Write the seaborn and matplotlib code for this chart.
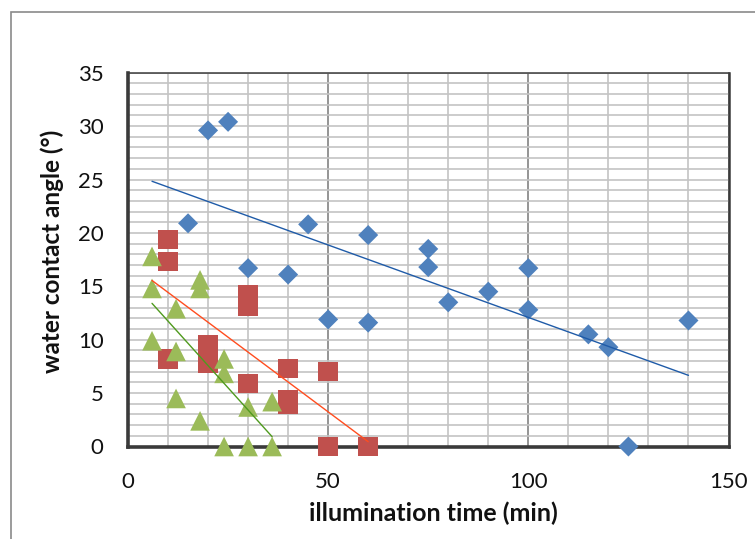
import numpy as np
import pandas as pd
import matplotlib
matplotlib.use("Agg")
import matplotlib.pyplot as plt
from matplotlib.patches import Rectangle
from matplotlib.ticker import MultipleLocator, FixedLocator
import seaborn as sns

# illumination time (min) and measured water contact angle (deg), three sample series
blue_time = [15, 20, 25, 30, 40, 45, 50, 60, 60, 75, 75, 80, 90, 100, 100, 115, 120, 125, 140]
blue_angle = [20.9, 29.6, 30.4, 16.7, 16.1, 20.8, 11.9, 19.8, 11.6, 18.5, 16.8, 13.5,
              14.5, 16.7, 12.8, 10.5, 9.3, 0.0, 11.8]

red_time = [10, 10, 10, 20, 20, 30, 30, 30, 40, 40, 40, 50, 50, 60]
red_angle = [19.4, 17.3, 8.2, 9.5, 7.8, 14.2, 13.1, 5.9, 7.3, 4.4, 4.0, 7.0, 0.0, 0.0]

green_time = [6, 6, 6, 12, 12, 12, 18, 18, 18, 24, 24, 24, 30, 30, 36, 36]
green_angle = [17.8, 14.8, 9.9, 12.9, 8.9, 4.5, 15.6, 14.8, 2.4, 8.2, 6.85, 0.0,
               3.7, 0.0, 4.2, 0.0]

x_ticks = [0, 50, 100, 150]
y_ticks = [0, 5, 10, 15, 20, 25, 30, 35]
x_label = "illumination time (min)"
y_label = "water contact angle (°)"

sns.set_theme(style="white")
plt.rcParams["font.family"] = ["Lato", "DejaVu Sans"]

series = [
    (blue_time, blue_angle, "#4f81bd", "D", 104, "#1f5ba8"),
    (red_time, red_angle, "#c0504d", "s", 196, "#ff4d1f"),
    (green_time, green_angle, "#9bbb59", "^", 200, "#4f9a1e"),
]

fig = plt.figure(figsize=(7.55, 5.39), dpi=100)
ax = fig.add_axes([128 / 755, 1 - 446.5 / 539, 600.5 / 755, 373.8 / 539])

for t, a, col, mk, size, _ in series:
    df = pd.DataFrame({"time": t, "angle": a})
    sns.scatterplot(data=df, x="time", y="angle", ax=ax, color=col, marker=mk,
                    s=size, linewidth=0, edgecolor="none", zorder=3, clip_on=False)

# least-squares trend lines, all starting at the earliest illumination time
t_start = min(min(s[0]) for s in series)
for t, a, _, _, _, lcol in series:
    slope, intercept = np.polyfit(t, a, 1)
    xs = np.array([t_start, max(t)])
    ax.plot(xs, slope * xs + intercept, color=lcol, lw=1.0, zorder=4)

ax.set_xlim(0, 150)
ax.set_ylim(0, 35)
ax.xaxis.set_major_locator(FixedLocator(x_ticks))
ax.yaxis.set_major_locator(FixedLocator(y_ticks))
ax.xaxis.set_minor_locator(MultipleLocator(10))
ax.yaxis.set_minor_locator(MultipleLocator(1))

ax.grid(False)
ax.grid(which="minor", axis="both", color="#c4c4c4", lw=1.2, zorder=0)
ax.grid(which="major", axis="y", color="#c4c4c4", lw=1.2, zorder=0)
ax.grid(which="major", axis="x", color="#8c8c8c", lw=1.3, zorder=0)
ax.set_axisbelow(True)

dark = "#3a3a3a"
for side in ("left", "bottom"):
    ax.spines[side].set_linewidth(2.6)
    ax.spines[side].set_color(dark)
ax.spines["top"].set_linewidth(1.1)
ax.spines["top"].set_color(dark)
ax.spines["right"].set_linewidth(1.8)
ax.spines["right"].set_color(dark)

ax.tick_params(which="major", direction="out", length=5.5, width=2.6, color=dark,
               labelsize=16, labelcolor="#111111")
ax.tick_params(axis="y", which="major", pad=12)
ax.tick_params(axis="x", which="major", pad=13)
ax.tick_params(which="minor", length=0)

ax.set_xlabel(x_label, fontsize=18, fontweight="bold", color="#111111")
ax.set_ylabel(y_label, fontsize=17.5, fontweight="bold", color="#111111")
ax.xaxis.set_label_coords(0.508, -0.148)
ax.yaxis.set_label_coords(-0.107, 0.523)

# chart-area frame
fig.add_artist(Rectangle((10.5 / 755, -0.2), 1.2, 1.2 - 12 / 539,
                         transform=fig.transFigure, fill=False,
                         edgecolor="#8a8a8a", lw=1.2))

fig.savefig("out.png", dpi=100)
